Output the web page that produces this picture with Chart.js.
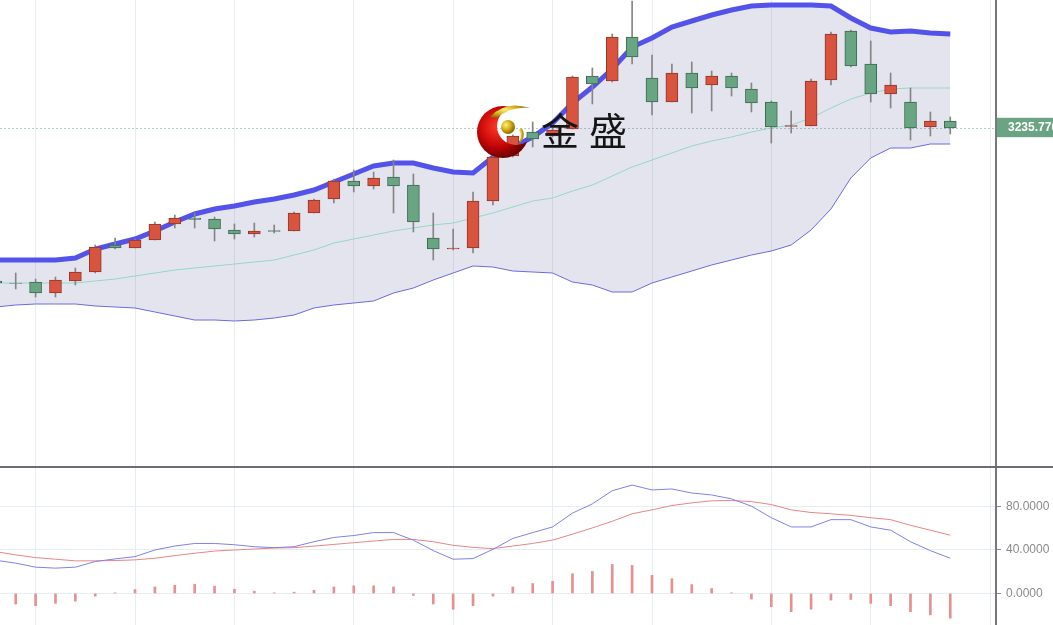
<!DOCTYPE html>
<html>
<head>
<meta charset="utf-8">
<script src="https://cdn.jsdelivr.net/npm/chart.js@4.4.0/dist/chart.umd.min.js"></script>
<style>
  html, body { margin: 0; padding: 0; background: #fff; overflow: hidden; }
  #wrap { position: relative; width: 1053px; height: 625px; }
  #mainBox { position: absolute; left: 0; top: 0; width: 1053px; height: 466px; }
  #sep { position: absolute; left: 0; top: 466px; width: 1053px; height: 2px; background: #6c6c74; }
  #subBox { position: absolute; left: 0; top: 468px; width: 1053px; height: 157px; }
  #logo { position: absolute; left: 472px; top: 100px; width: 66px; height: 64px; }
  .brand { position: absolute; top: 110px; font-family: "Noto Sans CJK SC", sans-serif; font-size: 38px; line-height: 38px; color: #151515; }
</style>
</head>
<body>
<div id="wrap">
  <div id="mainBox"><canvas id="main"></canvas></div>
  <div id="sep"></div>
  <div id="subBox"><canvas id="sub"></canvas></div>
  <svg id="logo" viewBox="0 0 66 64">
    <defs>
      <radialGradient id="red" cx="40%" cy="40%" r="60%">
        <stop offset="0" stop-color="#ff3a2a"/>
        <stop offset="0.6" stop-color="#c80606"/>
        <stop offset="1" stop-color="#6e0000"/>
      </radialGradient>
      <radialGradient id="gold" cx="35%" cy="35%" r="65%">
        <stop offset="0" stop-color="#fff27a"/>
        <stop offset="0.5" stop-color="#d9b21c"/>
        <stop offset="1" stop-color="#8d6a00"/>
      </radialGradient>
      <mask id="moon">
        <rect width="66" height="64" fill="#fff"/>
        <circle cx="44" cy="26" r="19" fill="#000"/>
      </mask>
    </defs>
    <circle cx="31" cy="32" r="26" fill="url(#red)" mask="url(#moon)"/>
    <path d="M18 17 Q33 0 58 8 Q38 6 25 18 Z" fill="url(#gold)"/>
    <path d="M50 28 Q55 38 46 45 Q51 36 47 30 Z" fill="url(#gold)"/>
    <circle cx="36" cy="27" r="7" fill="url(#gold)"/>
  </svg>
  <span class="brand" style="left:541px">金</span>
  <span class="brand" style="left:589px">盛</span>
</div>
<script>
// daily candles, oldest first
const opens  = [3082.77, 3080.77, 3081.77, 3070.77, 3082.77, 3091.77, 3118.77, 3115.77, 3123.77, 3139.77,
                3145.77, 3144.77, 3133.77, 3129.77, 3133.27, 3132.77, 3150.77, 3164.77, 3182.77, 3177.77,
                3186.77, 3178.77, 3125.77, 3114.77, 3115.77, 3162.77, 3207.77, 3231.77, 3227.77, 3234.77,
                3287.77, 3282.77, 3326.77, 3285.77, 3261.77, 3290.77, 3278.77, 3287.77, 3274.77, 3261.77,
                3237.27, 3237.77, 3283.77, 3332.77, 3299.77, 3269.77, 3261.77, 3236.77, 3242.77];
const highs  = [3084.77, 3090.77, 3084.77, 3086.77, 3095.77, 3118.77, 3125.77, 3124.77, 3141.77, 3148.77,
                3150.77, 3146.77, 3139.77, 3140.77, 3138.77, 3151.77, 3164.77, 3184.77, 3193.77, 3191.77,
                3203.77, 3189.77, 3150.77, 3134.77, 3171.77, 3207.77, 3228.77, 3241.77, 3235.77, 3287.77,
                3295.77, 3329.77, 3362.77, 3308.77, 3299.77, 3301.77, 3292.77, 3290.77, 3280.77, 3262.77,
                3252.77, 3284.77, 3331.77, 3333.77, 3322.77, 3290.77, 3275.77, 3251.77, 3246.77];
const lows   = [3078.77, 3074.77, 3066.77, 3066.77, 3078.77, 3090.77, 3114.77, 3115.77, 3123.77, 3135.77,
                3135.77, 3122.77, 3124.77, 3126.77, 3130.77, 3132.77, 3150.77, 3160.77, 3171.77, 3174.77,
                3150.77, 3131.77, 3103.77, 3113.77, 3110.77, 3158.77, 3206.77, 3216.77, 3226.77, 3234.77,
                3259.77, 3281.77, 3299.77, 3248.77, 3261.77, 3250.77, 3252.77, 3267.77, 3251.77, 3220.77,
                3230.77, 3237.77, 3278.77, 3296.77, 3261.77, 3255.77, 3223.77, 3227.77, 3229.77];
const closes = [3080.77, 3080.27, 3070.77, 3083.77, 3091.77, 3116.77, 3115.77, 3123.77, 3139.77, 3145.77,
                3144.27, 3134.77, 3129.77, 3132.77, 3132.27, 3150.77, 3163.77, 3182.77, 3177.77, 3185.77,
                3177.77, 3141.77, 3114.77, 3115.77, 3162.77, 3206.77, 3227.77, 3224.77, 3233.77, 3286.77,
                3279.77, 3326.77, 3306.77, 3261.77, 3290.77, 3275.77, 3287.77, 3275.77, 3260.77, 3236.77,
                3238.27, 3282.77, 3329.77, 3297.77, 3269.77, 3278.77, 3235.77, 3242.77, 3235.77];

// bollinger bands
const bollUpper = [3103.77, 3103.77, 3103.77, 3103.77, 3105.77, 3114.77, 3119.77, 3124.77, 3132.77, 3141.77,
                   3149.77, 3154.77, 3157.77, 3161.77, 3164.77, 3168.77, 3173.77, 3181.77, 3189.77, 3197.77,
                   3200.77, 3200.77, 3195.77, 3191.77, 3190.77, 3206.77, 3216.77, 3226.77, 3240.77, 3260.77,
                   3276.77, 3294.77, 3316.77, 3325.77, 3336.77, 3342.77, 3348.77, 3353.77, 3357.77, 3358.77,
                   3358.77, 3358.77, 3357.77, 3345.77, 3335.77, 3331.77, 3332.77, 3330.77, 3329.77];
const bollMid   = [3080.77, 3080.77, 3080.77, 3080.77, 3080.77, 3082.77, 3084.77, 3087.77, 3090.77, 3093.77,
                   3095.77, 3097.77, 3099.77, 3101.77, 3103.77, 3108.77, 3113.77, 3120.77, 3124.77, 3128.77,
                   3132.77, 3135.77, 3138.77, 3140.77, 3145.77, 3150.77, 3156.77, 3162.77, 3165.77, 3172.77,
                   3178.77, 3187.77, 3196.77, 3203.77, 3210.77, 3217.77, 3222.77, 3226.77, 3231.77, 3235.77,
                   3238.77, 3245.77, 3255.77, 3264.77, 3270.77, 3274.77, 3275.77, 3275.77, 3275.77];
const bollLower = [3056.77, 3058.77, 3059.77, 3059.77, 3059.77, 3057.77, 3056.77, 3055.77, 3051.77, 3047.77,
                   3043.77, 3043.77, 3042.77, 3043.77, 3045.77, 3048.77, 3055.77, 3058.77, 3060.77, 3062.77,
                   3070.77, 3075.77, 3083.77, 3090.77, 3097.77, 3096.77, 3092.77, 3091.77, 3090.77, 3081.77,
                   3078.77, 3071.77, 3071.77, 3080.77, 3086.77, 3092.77, 3098.77, 3103.77, 3108.77, 3112.77,
                   3118.77, 3133.77, 3154.77, 3185.77, 3205.77, 3215.77, 3215.77, 3219.77, 3219.77];

// lower indicator panel
const fastLine = [30.5, 27.9, 24.2, 23.3, 24.2, 29.4, 31.8, 33.9, 40.0, 43.6,
                  46.0, 46.0, 44.8, 43.0, 42.1, 43.0, 47.6, 51.5, 53.3, 56.0,
                  56.0, 49.0, 39.4, 31.5, 32.1, 40.6, 50.6, 56.0, 61.2, 73.9,
                  82.4, 94.5, 99.7, 95.2, 96.1, 92.4, 90.6, 87.0, 80.3, 69.7,
                  61.2, 61.2, 67.9, 67.9, 61.2, 58.2, 47.6, 39.4, 32.4];
const slowLine = [38.5, 35.5, 33.0, 31.5, 30.0, 30.0, 30.3, 30.9, 32.4, 34.8,
                  37.0, 39.0, 40.0, 40.9, 41.8, 42.1, 43.6, 45.1, 46.7, 48.2,
                  49.7, 49.7, 47.6, 44.3, 42.4, 41.2, 43.6, 46.0, 49.1, 54.5,
                  60.3, 66.4, 73.3, 76.9, 80.9, 83.3, 85.2, 85.5, 84.5, 81.8,
                  76.9, 74.5, 73.3, 71.8, 69.7, 67.9, 62.7, 58.2, 53.6];
const histo    = [-8.5, -9.7, -11.2, -9.1, -7.0, -2.4, 0.6, 3.6, 6.0, 7.6,
                  8.5, 6.7, 3.9, 2.1, 0.6, 1.2, 3.0, 6.0, 7.0, 7.0,
                  6.0, -1.8, -9.7, -14.5, -11.2, -2.4, 6.0, 9.1, 11.2, 18.2,
                  20.3, 26.7, 25.8, 16.7, 13.6, 8.2, 4.5, 0.6, -5.2, -12.1,
                  -16.7, -14.5, -6.1, -5.5, -9.1, -11.2, -16.7, -19.7, -22.7];

const gridIdx = [2, 7, 12, 18, 23, 28, 33, 39, 44, 50];
const subTicks = [0, 40, 80];
const lastClose = closes[closes.length - 1];

const xMin = 0.21, xMax = 50.3;
const gridColor = '#e6edf3';
const axisColor = '#78787e';

const idx = closes.map((c, i) => i);
const isUp = idx.map(i => closes[i] >= opens[i]);
const bodyFill = isUp.map(u => u ? '#d9543f' : '#69a483');
const bodyEdge = isUp.map(u => u ? '#8e3628' : '#3d6a50');

function noPad(s) {
  s.paddingTop = 0; s.paddingBottom = 0; s.paddingLeft = 0; s.paddingRight = 0;
}

function xScale() {
  return {
    type: 'linear',
    min: xMin,
    max: xMax,
    offset: false,
    afterBuildTicks: s => { s.ticks = gridIdx.map(v => ({ value: v })); },
    afterFit: s => { s.height = 0; noPad(s); },
    ticks: { display: false },
    grid: { color: gridColor, drawTicks: false, offset: false },
    border: { display: false }
  };
}

new Chart(document.getElementById('main'), {
  type: 'bar',
  data: {
    datasets: [
      {
        label: 'body',
        data: idx.map(i => ({ x: i, y: [opens[i], closes[i]] })),
        backgroundColor: bodyFill,
        borderColor: bodyEdge,
        borderWidth: 1,
        borderSkipped: false,
        barThickness: 12,
        grouped: false
      },
      {
        label: 'wick',
        data: idx.map(i => ({ x: i, y: [lows[i], highs[i]] })),
        backgroundColor: '#858585',
        barThickness: 1,
        grouped: false
      },
      {
        type: 'line',
        label: 'mid',
        data: idx.map(i => ({ x: i, y: bollMid[i] })),
        borderColor: '#93d9c2',
        borderWidth: 1,
        pointRadius: 0,
        fill: false
      },
      {
        type: 'line',
        label: 'upper',
        data: idx.map(i => ({ x: i, y: bollUpper[i] })),
        borderColor: '#5353ec',
        borderWidth: 5,
        pointRadius: 0,
        fill: '+1',
        backgroundColor: 'rgba(100,100,165,0.175)'
      },
      {
        type: 'line',
        label: 'lower',
        data: idx.map(i => ({ x: i, y: bollLower[i] })),
        borderColor: '#6c6ce4',
        borderWidth: 1,
        pointRadius: 0,
        fill: false
      }
    ]
  },
  options: {
    responsive: true,
    maintainAspectRatio: false,
    animation: false,
    layout: { padding: 0 },
    plugins: { legend: { display: false }, tooltip: { enabled: false } },
    scales: {
      x: xScale(),
      y: {
        position: 'right',
        min: 2897.77,
        max: 3363.77,
        afterBuildTicks: s => { s.ticks = [{ value: lastClose }]; },
        afterFit: s => { s.width = 57; noPad(s); },
        ticks: {
          callback: v => v.toFixed(4),
          color: '#ffffff',
          font: { family: 'Liberation Sans', size: 12, weight: 'bold' },
          padding: 12,
          showLabelBackdrop: true,
          backdropColor: '#6aa482',
          backdropPadding: { top: 3, bottom: 2, left: 11, right: 6 }
        },
        grid: { color: '#b3cec4', drawTicks: false },
        border: { display: true, color: axisColor, width: 2, dash: [2, 2] }
      }
    }
  }
});

new Chart(document.getElementById('sub'), {
  type: 'bar',
  data: {
    datasets: [
      {
        type: 'line',
        label: 'fast',
        data: idx.map(i => ({ x: i, y: fastLine[i] })),
        borderColor: '#8080ea',
        borderWidth: 1,
        pointRadius: 0
      },
      {
        type: 'line',
        label: 'slow',
        data: idx.map(i => ({ x: i, y: slowLine[i] })),
        borderColor: '#ea8585',
        borderWidth: 1,
        pointRadius: 0
      },
      {
        label: 'hist',
        data: idx.map(i => ({ x: i, y: histo[i] })),
        backgroundColor: '#e88f8f',
        barThickness: 2,
        grouped: false
      }
    ]
  },
  options: {
    responsive: true,
    maintainAspectRatio: false,
    animation: false,
    layout: { padding: 0 },
    plugins: { legend: { display: false }, tooltip: { enabled: false } },
    scales: {
      x: xScale(),
      y: {
        position: 'right',
        min: -29,
        max: 115.4,
        afterBuildTicks: s => { s.ticks = subTicks.map(v => ({ value: v })); },
        afterFit: s => { s.width = 57; noPad(s); },
        ticks: {
          callback: v => v.toFixed(4),
          color: '#8a8a8a',
          font: { family: 'Liberation Sans', size: 12 },
          padding: 5
        },
        grid: { color: gridColor, tickColor: '#888', tickLength: 5 },
        border: { display: true, color: axisColor, width: 2 }
      }
    }
  }
});
</script>
</body>
</html>
